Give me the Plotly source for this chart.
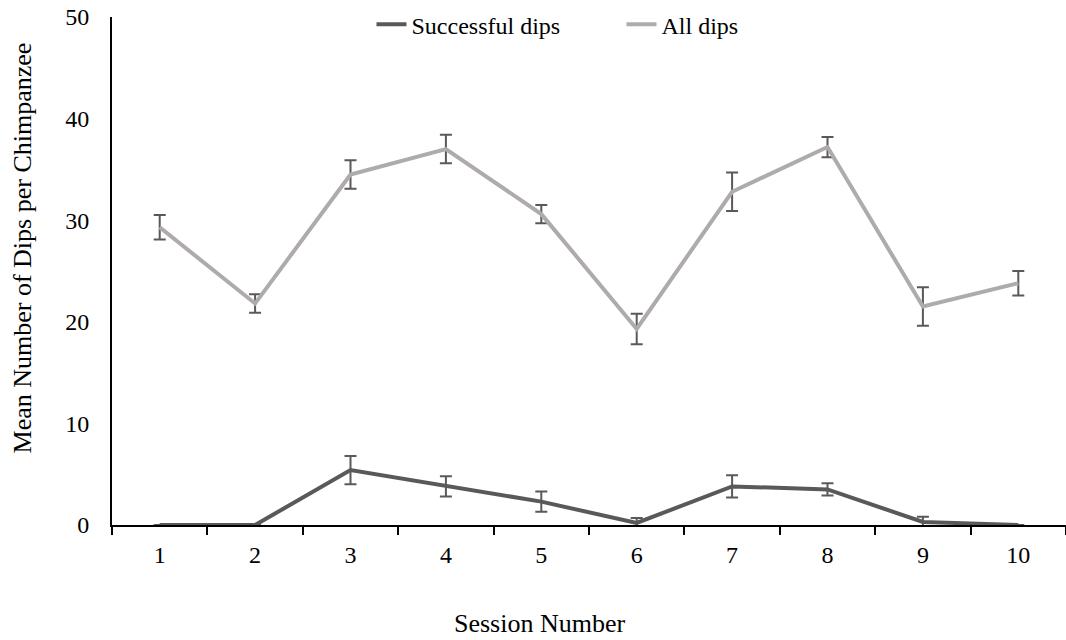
import plotly.graph_objects as go

sessions = ["1", "2", "3", "4", "5", "6", "7", "8", "9", "10"]
all_dips = [29.3, 21.8, 34.5, 37.0, 30.6, 19.3, 32.8, 37.2, 21.5, 23.8]
all_err = [1.2, 0.9, 1.4, 1.4, 0.9, 1.5, 1.9, 1.0, 1.9, 1.2]
succ_dips = [0, 0, 5.4, 3.8, 2.3, 0.2, 3.8, 3.5, 0.3, 0]
succ_err = [0, 0, 1.4, 1.0, 1.0, 0.5, 1.1, 0.6, 0.5, 0]

font = "Liberation Serif, Times New Roman, serif"

fig = go.Figure()
fig.add_trace(go.Scatter(
    x=sessions, y=succ_dips, name="Successful dips", mode="lines",
    line=dict(color="#595959", width=4),
    error_y=dict(type="data", array=succ_err, color="#595959", thickness=2, width=6),
))
fig.add_trace(go.Scatter(
    x=sessions, y=all_dips, name="All dips", mode="lines",
    line=dict(color="#AFABAB", width=4),
    error_y=dict(type="data", array=all_err, color="#595959", thickness=2, width=6),
))

fig.update_layout(
    width=1066, height=640,
    margin=dict(l=112, r=0, t=17, b=115, autoexpand=False),
    plot_bgcolor="white", paper_bgcolor="white",
    font=dict(family=font, size=24, color="black"),
    showlegend=True,
    legend=dict(orientation="h", x=0.272, xanchor="left", y=0.985, yanchor="middle",
                entrywidth=205, entrywidthmode="pixels",
                font=dict(size=24, family=font), bgcolor="rgba(0,0,0,0)"),
    xaxis=dict(type="category", tickson="boundaries", ticks="outside", ticklen=8,
               tickwidth=2, tickcolor="black", showline=True, linecolor="black",
               linewidth=2, showgrid=False, zeroline=False, range=[-0.5, 9.5],
               automargin=False, ticklabelstandoff=7,
               tickfont=dict(size=24, family=font)),
    yaxis=dict(range=[0, 50], dtick=10, showline=True, linecolor="black", linewidth=2,
               showgrid=False, zeroline=False, ticks="", automargin=False,
               ticklabelstandoff=16, tickfont=dict(size=24, family=font)),
    annotations=[
        dict(text="Session Number", xref="paper", yref="paper", x=0.449, y=-0.226,
             yanchor="bottom", xanchor="center", showarrow=False,
             font=dict(size=26, family=font)),
        dict(text="Mean Number of Dips per Chimpanzee", xref="paper", yref="paper",
             x=-0.094, xanchor="center", y=0.545, yanchor="middle", textangle=-90,
             showarrow=False, font=dict(size=26, family=font)),
    ],
)

fig.write_html("out.html", config={"displayModeBar": False},
               post_script="document.body.style.margin='0';")
